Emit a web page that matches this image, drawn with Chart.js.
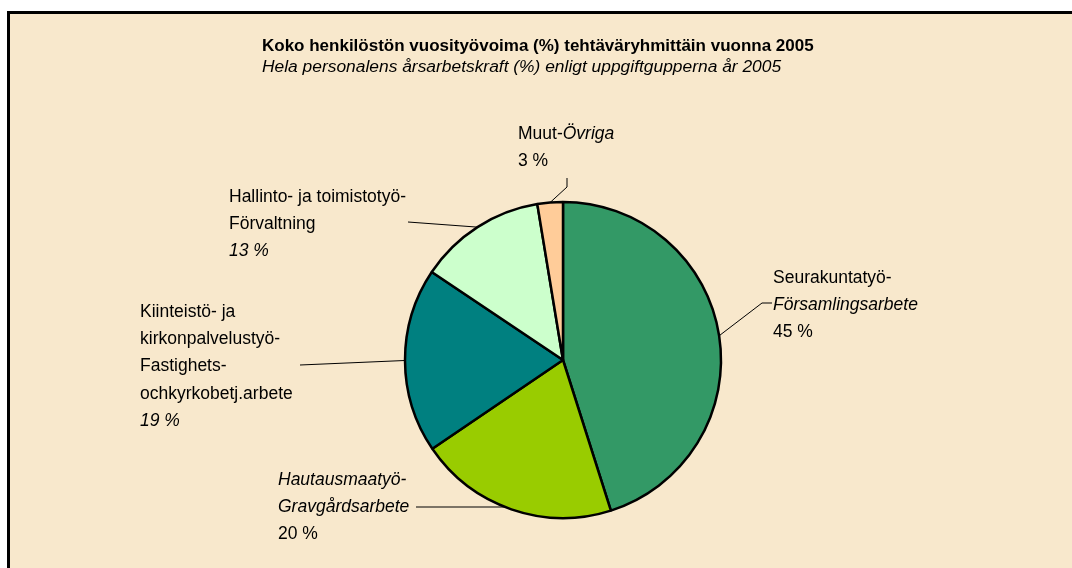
<!DOCTYPE html>
<html lang="fi">
<head>
<meta charset="utf-8">
<title>Koko henkilöstön vuosityövoima 2005</title>
<script src="https://cdn.jsdelivr.net/npm/chart.js@4.4.1/dist/chart.umd.min.js"></script>
<style>
  html, body { margin: 0; padding: 0; background: #ffffff; }
  #contenitore { width: 1072px; height: 568px; }
</style>
</head>
<body>
<div id="contenitore"><canvas id="myChart" width="1072" height="568"></canvas></div>
<script>
// Testi del grafico
const titolo = "Koko henkilöstön vuosityövoima (%) tehtäväryhmittäin vuonna 2005";
const sottotitolo = "Hela personalens årsarbetskraft (%) enligt uppgiftgupperna år 2005";

// Categorie (una riga per elemento) e valori
const categorie = [
  ["Seurakuntatyö-", "Församlingsarbete"],
  ["Hautausmaatyö-", "Gravgårdsarbete"],
  ["Kiinteistö- ja", "kirkonpalvelustyö-", "Fastighets-", "ochkyrkobetj.arbete"],
  ["Hallinto- ja toimistotyö-", "Förvaltning"],
  ["Muut-Övriga"]
];
const valori = [45.1, 20.4, 18.9, 13.0, 2.6];

// Colori delle fette
const colori = ["#339966", "#99CC00", "#008080", "#CCFFCC", "#FFCC99"];

// Posizione delle etichette (prima riga), stile corsivo per riga e punti della linea guida
// corsivo: true/false oppure indice del carattere da cui inizia il corsivo
// orizzontale: la linea guida arriva sul bordo della torta alla stessa altezza
const posEtichette = [
  { x: 773, y: 283, corsivo: [false, true, false], linea: [[772, 303], [762, 303]] },
  { x: 278, y: 485, corsivo: [true, true, false], linea: [[416, 507]], orizzontale: true },
  { x: 140, y: 317, corsivo: [false, false, false, false, true], linea: [[300, 365]] },
  { x: 229, y: 202, corsivo: [false, false, true], linea: [[408, 222]] },
  { x: 518, y: 139, corsivo: [5, false], linea: [[567, 178], [567, 187]] }
];

const FAMIGLIA = '"Liberation Sans", Arial, sans-serif';
const DIM_ETICHETTA = 17.5;
const INTERLINEA = 27.2;

// Funzione per scrivere una riga con parte normale e parte in corsivo
function scriviRiga(ctx, testo, x, y, corsivo) {
  let inizio = corsivo === true ? 0 : (corsivo === false ? testo.length : corsivo);
  const normale = testo.slice(0, inizio);
  const italico = testo.slice(inizio);
  ctx.font = DIM_ETICHETTA + "px " + FAMIGLIA;
  ctx.fillText(normale, x, y);
  const w = ctx.measureText(normale).width;
  ctx.font = "italic " + DIM_ETICHETTA + "px " + FAMIGLIA;
  ctx.fillText(italico, x + w, y);
}

// Plugin per sfondo, cornice, titoli, linee guida ed etichette
const pluginDisegno = {
  id: "disegno",
  beforeDraw(chart) {
    const ctx = chart.ctx;
    ctx.save();
    ctx.fillStyle = "#ffffff";
    ctx.fillRect(0, 0, chart.width, chart.height);
    ctx.fillStyle = "#F8E8CC";
    ctx.fillRect(10, 14, chart.width - 10, chart.height - 14);
    ctx.fillStyle = "#000000";
    ctx.fillRect(7, 11, chart.width - 7, 3);
    ctx.fillRect(7, 11, 3, chart.height - 11);
    ctx.restore();
  },
  afterDatasetsDraw(chart) {
    const ctx = chart.ctx;
    const meta = chart.getDatasetMeta(0);
    const totale = valori.reduce((a, b) => a + b, 0);
    ctx.save();

    // Titoli
    ctx.fillStyle = "#000000";
    ctx.textBaseline = "alphabetic";
    ctx.textAlign = "left";
    ctx.font = "bold 17px " + FAMIGLIA;
    ctx.fillText(titolo, 262, 51);
    ctx.font = "italic 17.4px " + FAMIGLIA;
    ctx.fillText(sottotitolo, 262, 72);

    meta.data.forEach((arco, i) => {
      const pos = posEtichette[i];
      const p = arco.getProps(["x", "y", "startAngle", "endAngle", "outerRadius"], true);
      const medio = (p.startAngle + p.endAngle) / 2;
      let bx = p.x + Math.cos(medio) * p.outerRadius;
      let by = p.y + Math.sin(medio) * p.outerRadius;
      if (pos.orizzontale) {
        // Punto del bordo alla stessa altezza dell'ultima piega della linea
        const ultimo = pos.linea[pos.linea.length - 1];
        const dy = ultimo[1] - p.y;
        const dx = Math.sqrt(Math.max(p.outerRadius * p.outerRadius - dy * dy, 0));
        by = ultimo[1];
        bx = ultimo[0] < p.x ? p.x - dx : p.x + dx;
      }

      // Linea guida
      ctx.strokeStyle = "#000000";
      ctx.lineWidth = 1;
      ctx.beginPath();
      ctx.moveTo(pos.linea[0][0], pos.linea[0][1]);
      for (let k = 1; k < pos.linea.length; k++) {
        ctx.lineTo(pos.linea[k][0], pos.linea[k][1]);
      }
      ctx.lineTo(bx, by);
      ctx.stroke();

      // Testo dell'etichetta
      const righe = categorie[i].concat([Math.round(valori[i] / totale * 100) + " %"]);
      righe.forEach((riga, r) => {
        scriviRiga(ctx, riga, pos.x, pos.y + r * INTERLINEA, pos.corsivo[r]);
      });
    });
    ctx.restore();
  }
};

const ctx = document.getElementById("myChart");
new Chart(ctx, {
  type: "pie",
  data: {
    labels: categorie.map((c) => c.join(" ")),
    datasets: [
      {
        data: valori,
        backgroundColor: colori,
        borderColor: "#000000",
        borderWidth: 2.5,
        radius: 158
      }
    ]
  },
  options: {
    responsive: false,
    animation: false,
    layout: { padding: { left: 363, right: 309, top: 160, bottom: 8 } },
    plugins: {
      legend: { display: false },
      tooltip: { enabled: false },
      title: { display: false }
    }
  },
  plugins: [pluginDisegno]
});
</script>
</body>
</html>
